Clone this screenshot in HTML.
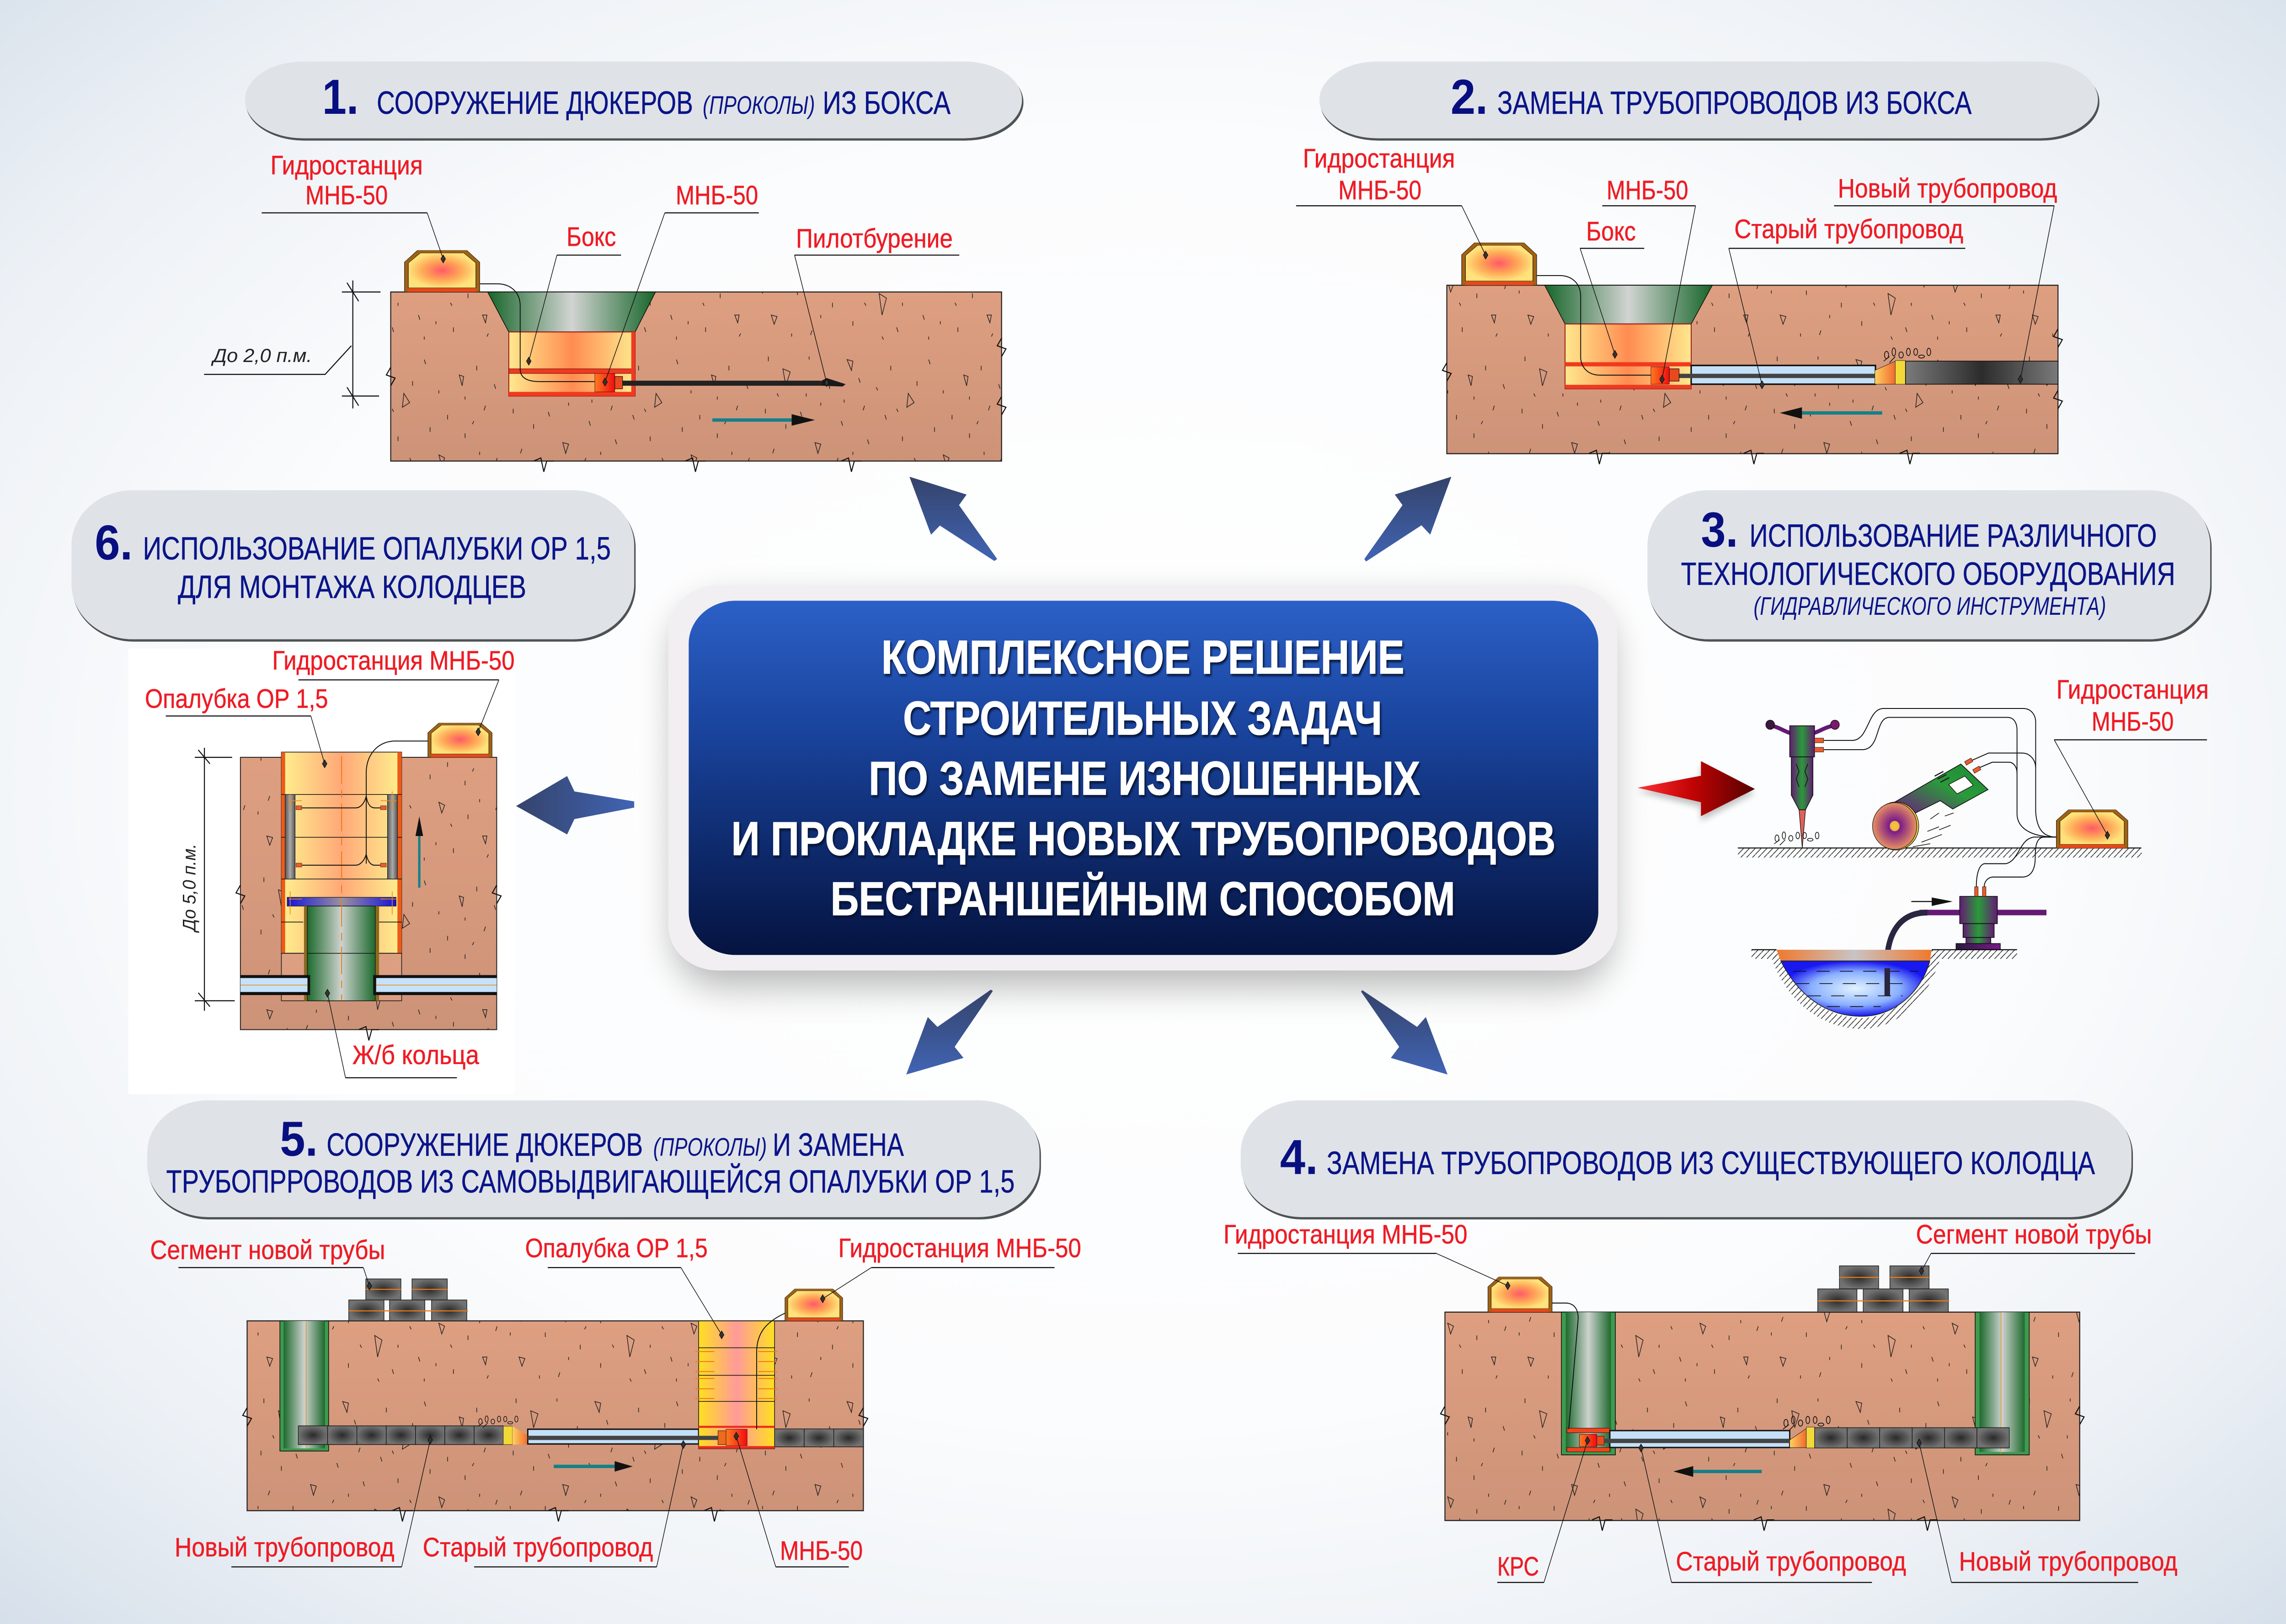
<!DOCTYPE html>
<html lang="ru">
<head>
<meta charset="utf-8">
<title>Комплексное решение строительных задач</title>
<style>
html,body{margin:0;padding:0;width:100%;height:100%;overflow:hidden;background:#fff}
svg{display:block;width:100vw;height:100vh}
text{font-family:"Liberation Sans",sans-serif}
.r{fill:#ee1c25;stroke:#ee1c25;stroke-width:.18;font-size:17.5px}
.t{fill:#0a1488;stroke:#0a1488;stroke-width:.15;font-size:21px}
.i{fill:#0a1488;font-size:16.5px;font-style:italic}
.n{fill:#080f80;font-size:32px;font-weight:bold}
.c{fill:#fff;stroke:#fff;stroke-width:.35;font-size:31px;font-weight:bold}
.d{fill:#222;font-size:12.5px;font-style:italic}
.l{stroke:#111;stroke-width:.7;fill:none}
.f{stroke:#111;stroke-width:.45;fill:none}
.h{stroke:#111;stroke-width:.6;fill:none}
.b{stroke:#111;stroke-width:.6}
</style>
</head>
<body>
<svg xmlns="http://www.w3.org/2000/svg" viewBox="0 0 1568 1056.75" preserveAspectRatio="none">
<defs>
<radialGradient id="bg" cx=".5" cy=".48" r=".72">
<stop offset="0" stop-color="#fff"/><stop offset=".55" stop-color="#fbfcfd"/><stop offset=".8" stop-color="#edf1f6"/><stop offset="1" stop-color="#d6e0ea"/>
</radialGradient>
<linearGradient id="blue" x1="0" y1="0" x2="0" y2="1"><stop offset="0" stop-color="#2c60c6"/><stop offset=".35" stop-color="#1a459f"/><stop offset=".7" stop-color="#0e2a6c"/><stop offset="1" stop-color="#051340"/></linearGradient>
<linearGradient id="soil" x1="0" y1="0" x2="0" y2="1"><stop offset="0" stop-color="#de9f81"/><stop offset="1" stop-color="#cd9378"/></linearGradient>
<linearGradient id="fun" x1="0" y1="0" x2="1" y2="0"><stop offset="0" stop-color="#17662a"/><stop offset=".5" stop-color="#d2d4d2"/><stop offset="1" stop-color="#17662a"/></linearGradient>
<linearGradient id="well" x1="0" y1="0" x2="1" y2="0"><stop offset="0" stop-color="#1d6a2e"/><stop offset=".5" stop-color="#cdd2ce"/><stop offset="1" stop-color="#1d6a2e"/></linearGradient>
<linearGradient id="box" x1="0" y1="0" x2="1" y2="0"><stop offset="0" stop-color="#ffe88e"/><stop offset=".5" stop-color="#ff8c52"/><stop offset="1" stop-color="#ffe88e"/></linearGradient>
<linearGradient id="opal" x1="0" y1="0" x2="1" y2="0"><stop offset="0" stop-color="#fff08e"/><stop offset=".5" stop-color="#ffa878"/><stop offset="1" stop-color="#fff08e"/></linearGradient>
<linearGradient id="opy" x1="0" y1="0" x2="1" y2="0"><stop offset="0" stop-color="#ffe020"/><stop offset=".5" stop-color="#ff9a9a"/><stop offset="1" stop-color="#ffe020"/></linearGradient>
<linearGradient id="red" x1="0" y1="0" x2="1" y2="0"><stop offset="0" stop-color="#ff7a20"/><stop offset="1" stop-color="#f00c10"/></linearGradient>
<linearGradient id="cone" x1="0" y1="0" x2="1" y2="0"><stop offset="0" stop-color="#ffd060"/><stop offset="1" stop-color="#f06a30"/></linearGradient>
<linearGradient id="pipe" x1="0" y1="0" x2="1" y2="0"><stop offset="0" stop-color="#7a7a7a"/><stop offset=".5" stop-color="#2c2c2c"/><stop offset="1" stop-color="#7a7a7a"/></linearGradient>
<radialGradient id="seg"><stop offset="0" stop-color="#2a2a2a"/><stop offset="1" stop-color="#727272"/></radialGradient>
<linearGradient id="gray" x1="0" y1="0" x2="1" y2="0"><stop offset="0" stop-color="#555"/><stop offset=".5" stop-color="#aaa"/><stop offset="1" stop-color="#555"/></linearGradient>
<linearGradient id="plate" x1="0" y1="0" x2="1" y2="0"><stop offset="0" stop-color="#1414d8"/><stop offset=".5" stop-color="#9a90a0"/><stop offset="1" stop-color="#1414d8"/></linearGradient>
<radialGradient id="st"><stop offset="0" stop-color="#ff5a66"/><stop offset=".55" stop-color="#ffa656"/><stop offset="1" stop-color="#ffe27a"/></radialGradient>
<linearGradient id="ab" x1="0" y1="0" x2="0" y2="1"><stop offset="0" stop-color="#34436a"/><stop offset="1" stop-color="#4164b4"/></linearGradient>
<linearGradient id="abr" x1="0" y1="0" x2="0" y2="1"><stop offset="0" stop-color="#34436a"/><stop offset="1" stop-color="#4164b4"/></linearGradient>
<linearGradient id="al" x1="0" y1="0" x2="1" y2="0"><stop offset="0" stop-color="#34436a"/><stop offset="1" stop-color="#4164b4"/></linearGradient>
<linearGradient id="ra" x1="0" y1="0" x2="1" y2="0"><stop offset="0" stop-color="#ff3034"/><stop offset=".45" stop-color="#c40404"/><stop offset="1" stop-color="#560000"/></linearGradient>
<linearGradient id="tool" x1="0" y1="0" x2="1" y2="0"><stop offset="0" stop-color="#641a74"/><stop offset=".5" stop-color="#2a9a3a"/><stop offset="1" stop-color="#641a74"/></linearGradient>
<linearGradient id="grind" x1="0" y1="1" x2="1" y2="0"><stop offset="0" stop-color="#6e1c80"/><stop offset=".55" stop-color="#2a9a3a"/><stop offset="1" stop-color="#1d8a34"/></linearGradient>
<linearGradient id="pur" x1="0" y1="0" x2="1" y2="0"><stop offset="0" stop-color="#2a1a40"/><stop offset="1" stop-color="#7a1a8a"/></linearGradient>
<radialGradient id="water"><stop offset="0" stop-color="#e2f3ff"/><stop offset=".6" stop-color="#8ab0ff"/><stop offset="1" stop-color="#1818f0"/></radialGradient>
<linearGradient id="pit" x1="0" y1="0" x2="1" y2="0"><stop offset="0" stop-color="#f0782c"/><stop offset=".5" stop-color="#c8c4c4"/><stop offset="1" stop-color="#f0782c"/></linearGradient>
<radialGradient id="disc"><stop offset="0" stop-color="#f5c83c"/><stop offset=".2" stop-color="#f0b840"/><stop offset=".24" stop-color="#7a1a8a"/><stop offset="1" stop-color="#e89060"/></radialGradient>
<pattern id="hatch" width="4" height="4" patternUnits="userSpaceOnUse"><path d="M0,4 L4,0" stroke="#222" stroke-width=".45"/></pattern>
<pattern id="sp" width="173" height="113" patternUnits="userSpaceOnUse">
<g fill="none" stroke="#1c1c1c" stroke-width=".45">
<path d="M18,14l5,2-3,9z M62,8l4,1-1,6z M104,30l4,6-5,3z M142,18l3,1-1,6z M40,62l4,1-2,6z M84,78l5,3-3,11z M128,70l4,2-2,5z M158,92l3,0-1,5z M10,92l4,1-2,5z"/>
<path d="M8,6v3M30,42l1,3M50,24v3M74,38l-1,3M92,12v3M118,8l1,3M134,44v3M160,38l-1,3M20,50v3M58,48l1,3M100,58v3M114,92l1,3M146,56v3M168,72l-1,3M28,76v3M66,96v3M76,60l1,3M52,84v3M96,100l1,3M138,100v3M6,40v3M88,44l1,3M122,52v3M154,12v3M38,102l-1,3M110,22v3M70,20l1,3M148,78v3M12,66l-1,3M166,24l1,3M36,6v2M82,26l1,2M128,28v2M152,48l-1,2M44,36v2M14,30l1,2M66,68v2M108,72l1,2M118,106v2M86,106l1,2M24,104v2M156,68v2M136,84l1,2M44,92v2M74,84l1,2M100,84v2M126,96v2M162,104l-1,2M56,72l-1,2M4,76v2M34,30v2M96,40l1,2M146,32v2M60,34v2"/>
</g></pattern>
<g id="station">
<polygon points="0,28 17,0 83,0 100,28 100,100 0,100" fill="#a5620f" stroke="#222" stroke-width=".8"/>
<polygon points="5,30 21,6 79,6 95,30 95,90 5,90" fill="url(#st)" stroke="#222" stroke-width=".8"/>
<rect x="5" y="91" width="90" height="9" fill="#e8481a"/>
</g>
<g id="brk"><path d="M0,-6 L-3,-1 L3,1 L0,6" fill="none" stroke="#111" stroke-width=".7"/></g>
<g id="brv"><path d="M-6,0 L-1,-2 L1,7 L3,0 L8,0" fill="none" stroke="#111" stroke-width=".7"/></g>
<g id="mk"><path d="M0,-2.6 L1.6,0 L0,2.6 L-1.6,0z" fill="#333" stroke="#000" stroke-width=".3"/></g>
<g id="deb" fill="none" stroke="#111" stroke-width=".5"><ellipse cx="3" cy="5" rx="1.4" ry="2.4"/><ellipse cx="8" cy="3" rx="1.2" ry="2.6"/><ellipse cx="13" cy="5" rx="1.5" ry="2"/><ellipse cx="18" cy="3" rx="1.3" ry="2.4"/><ellipse cx="23" cy="3" rx="1.3" ry="2.2"/><ellipse cx="27" cy="6" rx="2" ry="1"/><ellipse cx="32" cy="3" rx="1.3" ry="2.4"/><path d="M1,9l4,-3M5,10l4,-4"/></g>
<filter id="bl" x="-20%" y="-30%" width="140%" height="160%"><feGaussianBlur stdDeviation="12"/></filter>
<filter id="bs" x="-30%" y="-30%" width="160%" height="160%"><feGaussianBlur stdDeviation="2.2"/></filter>
<filter id="ts" x="-5%" y="-20%" width="110%" height="140%"><feDropShadow dx=".8" dy="1.4" stdDeviation=".7" flood-color="#020a28" flood-opacity=".9"/></filter>
</defs>

<rect width="1568" height="1057" fill="url(#bg)"/>
<rect x="88" y="422" width="265" height="290" fill="#fff"/>

<!-- pills -->
<g fill="#4d5253">
<rect x="168.5" y="41.5" width="533.5" height="50" rx="40" ry="25"/>
<rect x="905.5" y="41.5" width="534.5" height="50" rx="40" ry="25"/>
<rect x="49.5" y="320.5" width="386.5" height="97" rx="42" ry="36"/>
<rect x="1130.5" y="320.5" width="386.5" height="97" rx="42" ry="36"/>
<rect x="101.5" y="717.5" width="612.5" height="76" rx="42" ry="34"/>
<rect x="851.5" y="717.5" width="611.5" height="76" rx="42" ry="34"/>
</g>
<g fill="#dfe3e8">
<rect x="168" y="40" width="533" height="50" rx="40" ry="25"/>
<rect x="905" y="40" width="534" height="50" rx="40" ry="25"/>
<rect x="49" y="319" width="386" height="97" rx="42" ry="36"/>
<rect x="1130" y="319" width="386" height="97" rx="42" ry="36"/>
<rect x="101" y="716" width="612" height="76" rx="42" ry="34"/>
<rect x="851" y="716" width="611" height="76" rx="42" ry="34"/>
</g>
<text class="n" x="221" y="74" textLength="25" lengthAdjust="spacingAndGlyphs">1.</text>
<text class="t" x="258.4" y="74" textLength="217" lengthAdjust="spacingAndGlyphs">СООРУЖЕНИЕ ДЮКЕРОВ</text>
<text class="i" x="482" y="74" textLength="77" lengthAdjust="spacingAndGlyphs">(ПРОКОЛЫ)</text>
<text class="t" x="564.3" y="74" textLength="87.7" lengthAdjust="spacingAndGlyphs">ИЗ БОКСА</text>
<text class="n" x="995" y="74" textLength="25.5" lengthAdjust="spacingAndGlyphs">2.</text>
<text class="t" x="1027" y="74" textLength="325.4" lengthAdjust="spacingAndGlyphs">ЗАМЕНА ТРУБОПРОВОДОВ ИЗ БОКСА</text>
<text class="n" x="1166.7" y="355.7" textLength="25.5" lengthAdjust="spacingAndGlyphs">3.</text>
<text class="t" x="1200" y="355.7" textLength="279.4" lengthAdjust="spacingAndGlyphs">ИСПОЛЬЗОВАНИЕ РАЗЛИЧНОГО</text>
<text class="t" x="1153" y="380.6" textLength="339" lengthAdjust="spacingAndGlyphs">ТЕХНОЛОГИЧЕСКОГО ОБОРУДОВАНИЯ</text>
<text class="i" x="1202.8" y="400" textLength="241.8" lengthAdjust="spacingAndGlyphs">(ГИДРАВЛИЧЕСКОГО ИНСТРУМЕНТА)</text>
<text class="n" x="65" y="364" textLength="26" lengthAdjust="spacingAndGlyphs">6.</text>
<text class="t" x="98" y="364" textLength="321" lengthAdjust="spacingAndGlyphs">ИСПОЛЬЗОВАНИЕ ОПАЛУБКИ ОР 1,5</text>
<text class="t" x="122" y="389" textLength="239" lengthAdjust="spacingAndGlyphs">ДЛЯ МОНТАЖА КОЛОДЦЕВ</text>
<text class="n" x="192" y="752" textLength="26" lengthAdjust="spacingAndGlyphs">5.</text>
<text class="t" x="224" y="752" textLength="217" lengthAdjust="spacingAndGlyphs">СООРУЖЕНИЕ ДЮКЕРОВ</text>
<text class="i" x="448" y="752" textLength="78" lengthAdjust="spacingAndGlyphs">(ПРОКОЛЫ)</text>
<text class="t" x="530" y="752" textLength="90" lengthAdjust="spacingAndGlyphs">И ЗАМЕНА</text>
<text class="t" x="114" y="776" textLength="582" lengthAdjust="spacingAndGlyphs">ТРУБОПРРОВОДОВ ИЗ САМОВЫДВИГАЮЩЕЙСЯ ОПАЛУБКИ ОР 1,5</text>
<text class="n" x="878" y="764" textLength="26" lengthAdjust="spacingAndGlyphs">4.</text>
<text class="t" x="910" y="764" textLength="527" lengthAdjust="spacingAndGlyphs">ЗАМЕНА ТРУБОПРОВОДОВ ИЗ СУЩЕСТВУЮЩЕГО КОЛОДЦА</text>

<!-- centre -->
<rect x="462" y="392" width="644" height="250" rx="34" ry="30" fill="#000" opacity=".28" filter="url(#bl)"/>
<rect x="458.4" y="381" width="651" height="250.5" rx="34" ry="29" fill="#f1eff1"/>
<rect x="472.4" y="390.9" width="623.9" height="230.5" rx="32" ry="28" fill="url(#blue)"/>
<g filter="url(#ts)">
<text class="c" x="604.6" y="438.2" textLength="358.6" lengthAdjust="spacingAndGlyphs">КОМПЛЕКСНОЕ РЕШЕНИЕ</text>
<text class="c" x="619.4" y="478" textLength="328.6" lengthAdjust="spacingAndGlyphs">СТРОИТЕЛЬНЫХ ЗАДАЧ</text>
<text class="c" x="595.9" y="517" textLength="378.2" lengthAdjust="spacingAndGlyphs">ПО ЗАМЕНЕ ИЗНОШЕННЫХ</text>
<text class="c" x="501.6" y="556.4" textLength="565.4" lengthAdjust="spacingAndGlyphs">И ПРОКЛАДКЕ НОВЫХ ТРУБОПРОВОДОВ</text>
<text class="c" x="569.7" y="595.4" textLength="428.4" lengthAdjust="spacingAndGlyphs">БЕСТРАНШЕЙНЫМ СПОСОБОМ</text>
</g>

<!-- big arrows -->
<polygon points="623.8,310.2 663,321.8 657.8,328.7 684,363.8 682,365 644.7,342 638.6,347.9" fill="url(#ab)"/>
<polygon points="995.5,310.2 956.7,321.8 962,328.7 935.8,363.8 937,365.4 975,341.8 981,347.9" fill="url(#ab)"/>
<polygon points="621.6,699.2 660.9,688.4 654.8,681.2 681,644.8 679.6,644 643,668.2 636.4,661.8" fill="url(#abr)"/>
<polygon points="992.9,699.2 954,688.4 959.7,681.2 933.6,645.3 934.4,644.3 972,668.2 978,661.8" fill="url(#abr)"/>
<polygon points="354,524.5 389,505 394,515 435,521.5 435,525.5 394,533 389,543" fill="url(#al)"/>
<polygon points="1123.2,515 1166.7,507 1166.7,498 1203.7,516 1166.7,534 1166.7,525" fill="#000" opacity=".25" filter="url(#bs)"/>
<polygon points="1123.2,512.6 1166.7,504.8 1166.7,495.3 1203.7,513.4 1166.7,531.1 1166.7,522" fill="url(#ra)"/>

<!-- PANEL 1 -->
<rect x="268" y="190" width="419" height="110" fill="url(#soil)"/><rect x="268" y="190" width="419" height="110" fill="url(#sp)"/>
<path d="M268,190H687V300H268z" fill="none" stroke="#222" stroke-width=".7"/>
<use href="#brk" x="268" y="245"/><use href="#brk" x="687" y="226"/><use href="#brk" x="687" y="264"/><use href="#brv" x="372" y="300"/><use href="#brv" x="476" y="300"/><use href="#brv" x="583" y="300"/>
<use href="#station" transform="translate(277.5 163) scale(.515 .27)"/>
<polygon points="334.5,190 449.6,190 435.6,216 349,216" fill="url(#fun)" stroke="#111" stroke-width=".5"/>
<rect x="349" y="216" width="86.6" height="41.7" fill="url(#box)" stroke="#a01010" stroke-width=".6"/>
<rect x="349" y="240" width="86.6" height="3" fill="#f03a20" stroke="#600" stroke-width=".3"/>
<rect x="349" y="255" width="86.6" height="2.7" fill="#f03a20"/>
<rect x="433" y="216" width="2.6" height="41" fill="#f03a20"/>
<rect x="408" y="243" width="13.7" height="12" fill="url(#red)" stroke="#611" stroke-width=".3"/>
<rect x="421.7" y="245" width="5.3" height="8" fill="#e84a1e" stroke="#311" stroke-width=".4"/>
<rect x="427" y="247.7" width="136" height="3.3" fill="#222"/>
<polygon points="563,248 567,246 580,250 578,251.5 563,251" fill="#1a1a1a"/>
<path class="h" d="M329.3,184.7H342C350,185 356.8,190 356.8,199V240.5C357,246 362,248.3 370,248.3H407.8"/>
<path d="M488.6,273.3H545" stroke="#14808a" stroke-width="2.2" fill="none"/><polygon points="543,269.5 559,273.3 543,277" fill="#111"/>
<path class="l" d="M242,182.5V265.8M234.5,190H261M234.5,257.7H260M238,184l8,12M238,252l8,12M140,243.6H223L241,225"/>
<text class="d" x="146" y="235.5" textLength="68" lengthAdjust="spacingAndGlyphs">До 2,0 п.м.</text>
<text class="r" x="185.5" y="113.5" textLength="104.5" lengthAdjust="spacingAndGlyphs">Гидростанция</text>
<text class="r" x="209.5" y="133" textLength="56.5" lengthAdjust="spacingAndGlyphs">МНБ-50</text>
<path class="l" d="M179.5,138.5H293M456,138.5H520.5M382,166H426M545,166H658"/>
<path class="f" d="M293,138.5L304,168.5M456,138.5L415,248.6M382,166L362.7,235M545,166L567,249"/>
<use href="#mk" x="304" y="168.5"/><use href="#mk" x="415" y="248.6"/><use href="#mk" x="362.7" y="235"/><use href="#mk" x="567" y="249"/>
<text class="r" x="463.5" y="133" textLength="56.5" lengthAdjust="spacingAndGlyphs">МНБ-50</text>
<text class="r" x="388.6" y="160" textLength="33.9" lengthAdjust="spacingAndGlyphs">Бокс</text>
<text class="r" x="546" y="161" textLength="107.5" lengthAdjust="spacingAndGlyphs">Пилотбурение</text>

<!-- PANEL 2 -->
<rect x="992.4" y="185.6" width="419.2" height="109.6" fill="url(#soil)"/><rect x="992.4" y="185.6" width="419.2" height="109.6" fill="url(#sp)"/>
<path d="M992.4,185.6H1411.6V295.2H992.4z" fill="none" stroke="#222" stroke-width=".7"/>
<use href="#brk" x="992.4" y="242"/><use href="#brk" x="1411.6" y="220"/><use href="#brk" x="1411.6" y="260"/><use href="#brv" x="1096" y="295"/><use href="#brv" x="1202" y="295"/><use href="#brv" x="1309" y="295"/>
<use href="#station" transform="translate(1002.6 158) scale(.514 .276)"/>
<polygon points="1059.5,185.6 1174.5,185.6 1160,210.8 1073.5,210.8" fill="url(#fun)" stroke="#111" stroke-width=".5"/>
<rect x="1073.5" y="210.8" width="86.5" height="42.2" fill="url(#box)" stroke="#a01010" stroke-width=".6"/>
<rect x="1073.5" y="235.7" width="86.5" height="2.7" fill="#f03a20"/><rect x="1073.5" y="250.4" width="86.5" height="2.6" fill="#f03a20"/>
<rect x="1160" y="237.8" width="126.4" height="12.2" fill="#c4e0f8" stroke="#111" stroke-width="1"/>
<rect x="1151.7" y="243.2" width="134.7" height="2.8" fill="#444"/>
<rect x="1132.4" y="238.7" width="12.6" height="11.3" fill="url(#red)" stroke="#611" stroke-width=".3"/>
<rect x="1145" y="240" width="6.7" height="8" fill="#e84a1e" stroke="#311" stroke-width=".4"/>
<polygon points="1286,241 1300,235 1300,250 1286,250" fill="url(#cone)" stroke="#222" stroke-width=".3"/>
<rect x="1300" y="234.6" width="7" height="15.4" fill="#f2d838" stroke="#333" stroke-width=".3"/>
<rect x="1307" y="235" width="104.6" height="15" fill="url(#pipe)" stroke="#111" stroke-width=".5"/>
<use href="#deb" transform="translate(1291 226)"/>
<path class="h" d="M1054.2,179.3H1071C1080,180 1084.2,186 1084.2,192.8V233.3C1085,240 1090,244.1 1097.4,244.1H1132.4"/>
<path d="M1236,268.7H1291" stroke="#14808a" stroke-width="2.2" fill="none"/><polygon points="1236,265 1220.8,268.7 1236,272.5" fill="#111"/>
<text class="r" x="893.7" y="109" textLength="104.3" lengthAdjust="spacingAndGlyphs">Гидростанция</text>
<text class="r" x="918" y="129.7" textLength="57" lengthAdjust="spacingAndGlyphs">МНБ-50</text>
<text class="r" x="1102" y="129.7" textLength="56" lengthAdjust="spacingAndGlyphs">МНБ-50</text>
<text class="r" x="1088" y="156.4" textLength="34" lengthAdjust="spacingAndGlyphs">Бокс</text>
<text class="r" x="1189.6" y="155" textLength="157" lengthAdjust="spacingAndGlyphs">Старый трубопровод</text>
<text class="r" x="1260.6" y="128.5" textLength="150.4" lengthAdjust="spacingAndGlyphs">Новый трубопровод</text>
<path class="l" d="M889,133.9H1002.6M1099,133.9H1163M1083.8,161.6H1127.8M1185.8,161.6H1348M1258,133.9H1409"/>
<path class="f" d="M1002.6,133.9L1019,166M1163,133.9L1140,246.8M1083.8,161.6L1107.7,230.6M1185.8,161.6L1208.6,250.4M1409,133.9L1385.8,246.8"/>
<use href="#mk" x="1019" y="166"/><use href="#mk" x="1140" y="246.8"/><use href="#mk" x="1107.7" y="230.6"/><use href="#mk" x="1208.6" y="250.4"/><use href="#mk" x="1385.8" y="246.8"/>

<!-- PANEL 3 -->
<rect x="1192" y="552" width="277" height="6" fill="url(#hatch)"/><path class="l" d="M1192,551.8H1468.8"/>
<path class="h" d="M1251,481.8H1271C1282,481 1281,461 1292,461H1387.7C1393,461 1396.3,465 1396.3,470V528C1397,540 1402,544.7 1410.5,544.7"/>
<path class="h" d="M1251,487.8H1278C1290,487 1286,466.8 1296,466.8H1377C1381,466.8 1383.5,470 1383.5,475V530C1384,540 1395,544.7 1410.5,544.7"/>
<path class="h" d="M1352,495L1364,490H1387C1392,490 1396.3,494 1396.3,500M1356.5,500L1366.5,496H1378C1381,496 1383.5,499 1383.5,503"/>
<path class="h" d="M1410.5,544.7H1402C1397,545 1396,550 1396,558C1396,566 1393,570.7 1387,570.7H1367C1363,571 1361,574 1361,577"/>
<path class="h" d="M1410.5,544.7H1395C1385,546 1385,560 1376,562H1361C1357,563 1355.6,570 1355.6,577"/>
<path d="M1214,472C1220,473 1224,476 1228,477M1258.6,472C1252,473 1248,476 1244,477" stroke="#641a74" stroke-width="2.6" fill="none"/>
<circle cx="1214.2" cy="471.6" r="3" fill="#3a1a40" stroke="#111" stroke-width=".4"/><circle cx="1258.6" cy="471.6" r="3" fill="#7a1a6a" stroke="#111" stroke-width=".4"/>
<rect x="1227.6" y="472.3" width="17" height="20.2" fill="url(#tool)" stroke="#111" stroke-width=".5"/>
<polygon points="1228.7,492.5 1243.5,492.5 1243.5,517.4 1238.4,526.9 1234,526.9 1228.7,517.4" fill="url(#tool)" stroke="#111" stroke-width=".5"/>
<path d="M1232,497l2,5-2,5 2,5M1240,497l-2,5 2,5-2,5" stroke="#111" stroke-width=".5" fill="none"/>
<polygon points="1234,527 1238.4,527 1236.2,551.8" fill="#e2605a" stroke="#111" stroke-width=".4"/>
<rect x="1244.6" y="480.3" width="6.2" height="3" fill="#ee5a2a" stroke="#222" stroke-width=".3"/><rect x="1244.6" y="486.3" width="6.2" height="3" fill="#ee5a2a" stroke="#222" stroke-width=".3"/>
<use href="#deb" transform="translate(1216 541) scale(.95 .9)"/>
<polygon points="1299.5,522 1325,508 1345,497.2 1363.6,513.8 1339.4,526.4 1330.8,521 1313.8,529" fill="url(#grind)" stroke="#111" stroke-width=".5"/>
<polygon points="1336.6,510.5 1347.7,505 1353.5,511 1342.4,516.6" fill="#fff" stroke="#111" stroke-width=".4"/>
<path d="M1327,505l6,-3M1329,507l6,-3M1331,509l6,-3" stroke="#222" stroke-width=".8"/>
<rect x="1348" y="494.5" width="5" height="2.6" transform="rotate(-28 1350 496)" fill="#ee5a2a" stroke="#222" stroke-width=".3"/>
<rect x="1353.5" y="499.5" width="5" height="2.6" transform="rotate(-28 1356 501)" fill="#ee5a2a" stroke="#222" stroke-width=".3"/>
<circle cx="1300.5" cy="537.5" r="15.6" fill="#f2d640" stroke="#111" stroke-width=".4"/>
<circle cx="1299.6" cy="537.5" r="15.2" fill="url(#disc)" stroke="#222" stroke-width=".4"/>
<path class="f" d="M1318,548l14,-5M1322,541l8,-3M1324,533l6,-4M1330,540l8,-3M1334,531l6,-2M1312,551l12,-2"/>
<use href="#station" transform="translate(1410.5 526.9) scale(.49 .25)"/>
<path d="M1316.6,593.8H1344M1370,593.8H1403.7" stroke="#641a74" stroke-width="3.6" fill="none"/>
<path d="M1322,593.8C1304,593.8 1296,606 1294.5,622L1294,647.8" stroke="#2a2540" stroke-width="3.8" fill="none"/>
<rect x="1344.2" y="583.3" width="25.8" height="17.7" fill="url(#tool)" stroke="#111" stroke-width=".5"/>
<rect x="1346.5" y="601" width="21.3" height="9" fill="url(#tool)" stroke="#111" stroke-width=".5"/>
<rect x="1348.5" y="610" width="17" height="4" fill="url(#tool)" stroke="#111" stroke-width=".5"/>
<rect x="1341.7" y="614" width="30.3" height="4" fill="url(#pur)" stroke="#111" stroke-width=".5"/>
<rect x="1354.4" y="577" width="2.4" height="6.3" fill="#ee5a2a" stroke="#222" stroke-width=".3"/><rect x="1359.8" y="577" width="2.4" height="6.3" fill="#ee5a2a" stroke="#222" stroke-width=".3"/>
<path class="l" d="M1311,586.6H1330"/><polygon points="1325,584 1339.4,586.6 1325,589.5" fill="#111"/>
<rect x="1201.4" y="618" width="17" height="6" fill="url(#hatch)"/><rect x="1325" y="618" width="58.5" height="6" fill="url(#hatch)"/>
<path d="M1218,621C1228,650 1252,666 1277,666C1300,666 1320,648 1328,621" fill="none" stroke="url(#hatch)" stroke-width="7"/>
<path class="l" d="M1201.4,618H1218.5M1325,618H1383.5"/>
<polygon points="1218.5,618 1325,618 1323.7,625.3 1221.5,625.3" fill="url(#pit)"/>
<path d="M1221.5,625.3H1323.7C1318,645 1300,661.3 1276.8,661.3C1250,661.3 1232,645 1221.5,625.3z" fill="url(#water)" stroke="#222" stroke-width=".5"/>
<path d="M1230,632H1316M1232,640H1312M1240,648H1305M1253,655H1290" stroke="#111" stroke-width=".5" stroke-dasharray="9 7" fill="none"/>
<path d="M1294.5,630V647.8" stroke="#2a2540" stroke-width="3.8"/>
<text class="r" x="1410.5" y="454.6" textLength="104.5" lengthAdjust="spacingAndGlyphs">Гидростанция</text>
<text class="r" x="1434.7" y="475.4" textLength="56.3" lengthAdjust="spacingAndGlyphs">МНБ-50</text>
<path class="l" d="M1409,481.4H1513.8"/><path class="f" d="M1409,481.4L1445.5,543.5"/><use href="#mk" x="1445.5" y="543.5"/>

<!-- PANEL 6 -->
<rect x="164.9" y="492.8" width="175.8" height="177.2" fill="url(#soil)"/><rect x="164.9" y="492.8" width="175.8" height="177.2" fill="url(#sp)"/>
<path d="M164.9,492.8H340.7V670H164.9z" fill="none" stroke="#222" stroke-width=".6"/>
<use href="#brk" x="164.9" y="582"/><use href="#brk" x="340.7" y="582"/><use href="#brv" x="252" y="670"/>
<rect x="193" y="620.3" width="82.5" height="30.9" fill="#dd9f82" stroke="#222" stroke-width=".5"/>
<rect x="193" y="489.4" width="82.5" height="130.9" fill="url(#opal)" stroke="#222" stroke-width=".5"/>
<rect x="193" y="489.4" width="2.6" height="130.9" fill="#ee5a18"/><rect x="272.6" y="489.4" width="2.9" height="130.9" fill="#ee5a18"/>
<path class="f" d="M193,517H275.5M193,544.8H275.5M193,572H275.5M193,600H208M260,600H275.5M193,620.3H275.5"/>
<rect x="195.6" y="517" width="6.8" height="55" fill="url(#gray)" stroke="#222" stroke-width=".4"/><rect x="265.8" y="517" width="6.8" height="55" fill="url(#gray)" stroke="#222" stroke-width=".4"/>
<rect x="197" y="583.9" width="74.7" height="5.7" fill="url(#plate)" stroke="#222" stroke-width=".4"/>
<rect x="208.5" y="589.6" width="51.5" height="61.6" fill="#8a6a20"/>
<rect x="210.8" y="589.6" width="46.6" height="61.6" fill="url(#well)" stroke="#111" stroke-width=".4"/>
<path class="f" d="M210.8,620.3H257.4"/>
<path d="M234.3,492V651" stroke="#ee7a10" stroke-width=".6" stroke-dasharray="18 4 5 4" fill="none"/>
<rect x="164.9" y="634.5" width="47.8" height="13" fill="#111"/><rect x="164.9" y="636.4" width="46" height="9.1" fill="#c6e2fa"/>
<rect x="256" y="634.5" width="84.7" height="13" fill="#111"/><rect x="258" y="636.4" width="82.7" height="9.1" fill="#c6e2fa"/>
<path d="M164.9,641H211M258,641H340.7" stroke="#ee8a20" stroke-width=".5" fill="none"/>
<use href="#station" transform="translate(293.5 470.5) scale(.44 .223)"/>
<path class="h" d="M293.5,482.2H270C258,483 251.2,492 251.2,503V562"/>
<path class="h" d="M251.2,518C250,523 247,525.7 244,525.7H206.6M251.2,518C252,523 254,525.7 257,525.7H261.6M251.2,555.8C250,560 247,563 244,563H206.6M251.2,555.8C252,560 254,563 257,563H261.6"/>
<rect x="203" y="524.3" width="4" height="2.6" fill="#ee5a2a" stroke="#222" stroke-width=".2"/><rect x="261" y="524.3" width="4" height="2.6" fill="#ee5a2a" stroke="#222" stroke-width=".2"/>
<rect x="203" y="561.6" width="4" height="2.6" fill="#ee5a2a" stroke="#222" stroke-width=".2"/><rect x="261" y="561.6" width="4" height="2.6" fill="#ee5a2a" stroke="#222" stroke-width=".2"/>
<path d="M198,521H207M198,585H207M261,521H272M261,585H272M199,517V528M199,580V595M269,515V528M269,580V595" stroke="#ee8a10" stroke-width=".5" fill="none"/>
<path d="M287.6,577.6V543" stroke="#14808a" stroke-width="1.6" fill="none"/><polygon points="285,544 287.6,531.2 290.2,544" fill="#111"/>
<path class="l" d="M140.2,486.6V657.7M133.6,492.8H159.2M133.6,651.2H161M136,488l8,9M136,646l8,9"/>
<text class="d" transform="translate(134 606) rotate(-90)" textLength="57" lengthAdjust="spacingAndGlyphs">До 5,0 п.м.</text>
<text class="r" x="186.7" y="435.7" textLength="166.3" lengthAdjust="spacingAndGlyphs">Гидростанция МНБ-50</text>
<text class="r" x="99.4" y="460.6" textLength="125.6" lengthAdjust="spacingAndGlyphs">Опалубка ОР 1,5</text>
<text class="r" x="241.7" y="692.4" textLength="86.9" lengthAdjust="spacingAndGlyphs">Ж/б кольца</text>
<path class="l" d="M204.7,442.4H342.2M113.7,465.9H213.2M237,701.3H313.4"/>
<path class="f" d="M342.2,442.4L328,476.2M213.2,465.9L222.7,497M237,701.3L224.6,646.3"/>
<use href="#mk" x="328" y="476.2"/><use href="#mk" x="222.7" y="497"/><use href="#mk" x="224.6" y="646.3"/>

<!-- PANEL 5 -->
<rect x="169.5" y="859.5" width="422.7" height="123.5" fill="url(#soil)"/><rect x="169.5" y="859.5" width="422.7" height="123.5" fill="url(#sp)"/>
<path d="M169.5,859.5H592.2V983H169.5z" fill="none" stroke="#222" stroke-width=".7"/>
<use href="#brk" x="169.5" y="922"/><use href="#brk" x="592.2" y="922"/><use href="#brv" x="275" y="983"/><use href="#brv" x="382" y="983"/><use href="#brv" x="489" y="983"/>
<rect x="192" y="859.5" width="33.4" height="84.7" fill="#3f9a4f" stroke="#111" stroke-width=".5"/>
<rect x="194.5" y="859.5" width="28.4" height="83" fill="url(#well)"/>
<path d="M210,860V943" stroke="#ee8a20" stroke-width=".4"/>
<g fill="url(#seg)" stroke="#111" stroke-width=".4">
<rect x="204.6" y="927.8" width="20.1" height="12.2"/><rect x="224.7" y="927.8" width="20.1" height="12.2"/><rect x="244.8" y="927.8" width="20.1" height="12.2"/><rect x="264.9" y="927.8" width="20.1" height="12.2"/><rect x="285" y="927.8" width="20.1" height="12.2"/><rect x="305.1" y="927.8" width="20.1" height="12.2"/><rect x="325.2" y="927.8" width="20" height="12.2"/>
<rect x="531.3" y="929.8" width="20.3" height="11.7"/><rect x="551.6" y="929.8" width="20.3" height="11.7"/><rect x="571.9" y="929.8" width="20.3" height="11.7"/>
<rect x="250.9" y="832.2" width="24.1" height="13.7"/><rect x="282.6" y="832.2" width="24.2" height="13.7"/>
<rect x="239.2" y="845.9" width="24.2" height="13.6"/><rect x="267.2" y="845.9" width="24.2" height="13.6"/><rect x="296" y="845.9" width="24.2" height="13.6"/>
</g>
<path d="M250.9,839H275M282.6,839H306.8M239.2,853H321" stroke="#ee7a10" stroke-width=".7" fill="none"/>
<rect x="345.2" y="928" width="6.3" height="12" fill="#f2d838" stroke="#333" stroke-width=".3"/>
<polygon points="351.5,928 362,934 362,940 351.5,940" fill="url(#cone)"/>
<rect x="362" y="930" width="117.2" height="9.6" fill="#c4e0f8" stroke="#111" stroke-width=".9"/>
<rect x="362" y="934.3" width="130.5" height="2.7" fill="#444"/>
<rect x="479.2" y="859.5" width="52.1" height="83.2" fill="url(#opy)" stroke="#222" stroke-width=".5"/>
<path class="f" d="M479.2,877H531.3M479.2,894.9H531.3M479.2,911.9H531.3M479.2,928.6H531.3"/>
<path d="M477,879.5H490M520,879.5H533M477,886H490M520,886H533M477,892.5H490M520,892.5H533M477,897H490M520,897H533M477,903.7H490M520,903.7H533M477,910H490M520,910H533" stroke="#ee7a10" stroke-width=".6" fill="none"/>
<rect x="479.2" y="941" width="52.1" height="1.7" fill="#ee2a1a"/>
<rect x="498" y="930" width="14.5" height="10.7" fill="url(#red)" stroke="#611" stroke-width=".3"/><rect x="492.5" y="931" width="5.5" height="9" fill="#ee6a1e" stroke="#311" stroke-width=".3"/>
<rect x="479.2" y="927.8" width="52" height="1.3" fill="#ee2a1a"/>
<rect x="362" y="934.3" width="130.5" height="2.7" fill="#444"/>
<use href="#station" transform="translate(538.4 838.7) scale(.396 .208)"/>
<path class="h" d="M538.4,854.5C526,860 519,867 519,880V930"/>
<use href="#deb" transform="translate(327 921) scale(.85 .8)"/>
<path d="M379.8,954.2H423" stroke="#14808a" stroke-width="2.2" fill="none"/><polygon points="421.6,950.8 434,954.2 421.6,957.6" fill="#111"/>
<text class="r" x="103" y="819.3" textLength="161.2" lengthAdjust="spacingAndGlyphs">Сегмент новой трубы</text>
<text class="r" x="360.2" y="818" textLength="125.2" lengthAdjust="spacingAndGlyphs">Опалубка ОР 1,5</text>
<text class="r" x="575" y="818" textLength="166.6" lengthAdjust="spacingAndGlyphs">Гидростанция МНБ-50</text>
<text class="r" x="119.8" y="1012.8" textLength="150.7" lengthAdjust="spacingAndGlyphs">Новый трубопровод</text>
<text class="r" x="290" y="1012.8" textLength="157.9" lengthAdjust="spacingAndGlyphs">Старый трубопровод</text>
<text class="r" x="535" y="1015" textLength="56.8" lengthAdjust="spacingAndGlyphs">МНБ-50</text>
<path class="l" d="M122.4,824.8H249.2M375.7,824.8H467M597.7,824.8H723.3M158.7,1019.6H275.5M325.2,1019.6H450.4M532.1,1019.6H582.2"/>
<path class="f" d="M249.2,824.8L253.4,836.8M467,824.8L495,868.6M597.7,824.8L564.3,845.1M275.5,1019.6L295.1,937M450.4,1019.6L468.7,940M532.1,1019.6L505,934.6"/>
<use href="#mk" x="253.4" y="836.8"/><use href="#mk" x="495" y="868.6"/><use href="#mk" x="564.3" y="845.1"/><use href="#mk" x="295.1" y="937"/><use href="#mk" x="468.7" y="940"/><use href="#mk" x="505" y="934.6"/>

<!-- PANEL 4 -->
<rect x="991.1" y="853.8" width="435.4" height="135.6" fill="url(#soil)"/><rect x="991.1" y="853.8" width="435.4" height="135.6" fill="url(#sp)"/>
<path d="M991.1,853.8H1426.5V989.4H991.1z" fill="none" stroke="#222" stroke-width=".7"/>
<use href="#brk" x="991.1" y="921"/><use href="#brk" x="1426.5" y="921"/><use href="#brv" x="1098" y="989"/><use href="#brv" x="1209" y="989"/><use href="#brv" x="1321" y="989"/>
<rect x="1071" y="853.8" width="37" height="92.9" fill="#3f9a4f" stroke="#111" stroke-width=".5"/><rect x="1074" y="853.8" width="31" height="91" fill="url(#well)"/>
<rect x="1354.8" y="853.8" width="37.1" height="92.9" fill="#3f9a4f" stroke="#111" stroke-width=".5"/><rect x="1357.8" y="853.8" width="31" height="91" fill="url(#well)"/>
<path d="M1372.5,854V946" stroke="#ee8a20" stroke-width=".4"/>
<rect x="1074.8" y="929.3" width="29.4" height="3" fill="#f0441c" stroke="#311" stroke-width=".3"/><rect x="1074.8" y="941.9" width="29.4" height="2.8" fill="#f0441c" stroke="#311" stroke-width=".3"/>
<rect x="1083.3" y="933.3" width="12" height="8.1" fill="url(#red)" stroke="#311" stroke-width=".3"/><rect x="1095.3" y="934.5" width="5" height="5.8" fill="#e84a1e" stroke="#311" stroke-width=".3"/>
<rect x="1104.2" y="930.9" width="123.4" height="11" fill="#c4e0f8" stroke="#111" stroke-width=".9"/>
<rect x="1100" y="936.2" width="127.6" height="2.8" fill="#444"/>
<polygon points="1227.6,937 1239,929.5 1239,942 1227.6,942" fill="url(#cone)" stroke="#222" stroke-width=".3"/>
<rect x="1239" y="928.6" width="5.7" height="13.6" fill="#f2d838" stroke="#333" stroke-width=".3"/>
<g fill="url(#seg)" stroke="#111" stroke-width=".4">
<rect x="1244.7" y="929" width="22.3" height="13.2"/><rect x="1267" y="929" width="22.3" height="13.2"/><rect x="1289.3" y="929" width="22.3" height="13.2"/><rect x="1311.6" y="929" width="22.2" height="13.2"/><rect x="1333.8" y="929" width="22.2" height="13.2"/><rect x="1356" y="929" width="22.2" height="13.2"/>
<rect x="1261.7" y="823.7" width="26.9" height="15"/><rect x="1296.3" y="823.7" width="26.9" height="15"/>
<rect x="1246.8" y="838.7" width="26.9" height="15.1"/><rect x="1278" y="838.7" width="27.3" height="15.1"/><rect x="1309.5" y="838.7" width="26.9" height="15.1"/>
</g>
<path d="M1261.7,831.2H1288.6M1296.3,831.2H1323.2M1246.8,846.5H1337" stroke="#ee7a10" stroke-width=".7" fill="none"/>
<use href="#station" transform="translate(1020.6 830.9) scale(.44 .229)"/>
<path class="h" d="M1064.6,847.9H1074C1079,848 1082.5,851 1082.5,858L1076,930"/>
<use href="#deb" transform="translate(1222 921)"/>
<path d="M1161.4,957.5H1208.4" stroke="#14808a" stroke-width="2.2" fill="none"/><polygon points="1161.4,954 1147.8,957.5 1161.4,961" fill="#111"/>
<text class="r" x="839.2" y="809.2" textLength="167.3" lengthAdjust="spacingAndGlyphs">Гидростанция МНБ-50</text>
<text class="r" x="1314.2" y="809.2" textLength="161.8" lengthAdjust="spacingAndGlyphs">Сегмент новой трубы</text>
<text class="r" x="1027" y="1025.2" textLength="28.6" lengthAdjust="spacingAndGlyphs">КРС</text>
<text class="r" x="1149.5" y="1022" textLength="157.9" lengthAdjust="spacingAndGlyphs">Старый трубопровод</text>
<text class="r" x="1343.7" y="1022" textLength="149.8" lengthAdjust="spacingAndGlyphs">Новый трубопровод</text>
<path class="l" d="M849,815.6H985.2M1324.5,815.6H1464.5M1027,1029.7H1059M1146.5,1029.7H1284M1338.5,1029.7H1466.6"/>
<path class="f" d="M985.2,815.6L1034.2,836.6M1324.5,815.6L1318,826.9M1059,1029.7L1088.9,937.4M1146.5,1029.7L1125.6,942.2M1338.5,1029.7L1316.4,939"/>
<use href="#mk" x="1034.2" y="836.6"/><use href="#mk" x="1318" y="826.9"/><use href="#mk" x="1088.9" y="937.4"/><use href="#mk" x="1125.6" y="942.2"/><use href="#mk" x="1316.4" y="939"/>
</svg>
</body>
</html>
